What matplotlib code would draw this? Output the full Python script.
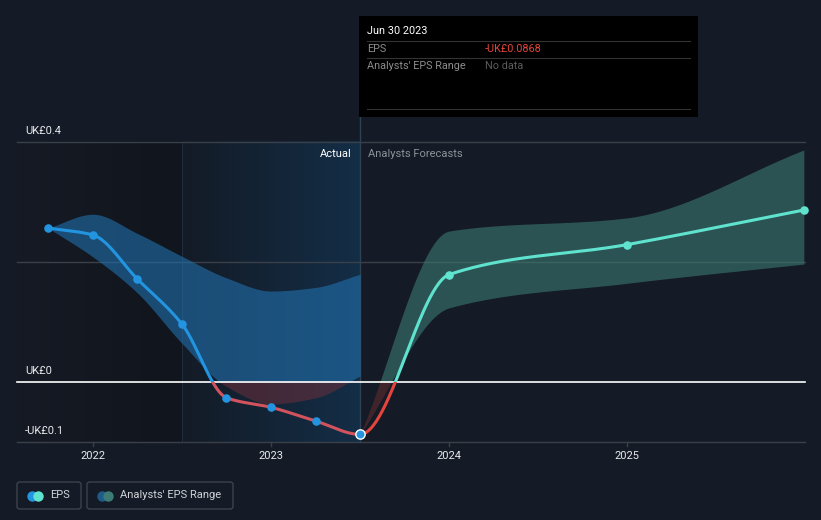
import numpy as np
import matplotlib
matplotlib.use("Agg")
import matplotlib.pyplot as plt
from matplotlib.patches import Rectangle, FancyBboxPatch
from matplotlib.colors import LinearSegmentedColormap

plt.rcParams['font.family'] = ['Roboto', 'DejaVu Sans']

# ---- data ----
past_x = [2021.75, 2022.0, 2022.25, 2022.5, 2022.75, 2023.0, 2023.25, 2023.5]
past_eps = [0.257, 0.2455, 0.172, 0.097, -0.0257, -0.0417, -0.0645, -0.0868]
past_hi = [0.257, 0.280, 0.248, 0.210, 0.174, 0.152, 0.158, 0.180]
past_lo = [0.257, 0.209, 0.149, 0.065, -0.007, -0.036, -0.026, 0.0105]

fc_x = [2023.5, 2024.0, 2025.0, 2025.99]
fc_eps = [-0.0868, 0.1795, 0.2295, 0.287]
fc_hi = [-0.0868, 0.252, 0.274, 0.387]
fc_lo = [-0.0868, 0.124, 0.165, 0.197]

y_ticks = [0.4, 0.0, -0.1]
y_labels = ['UK£0.4', 'UK£0', '-UK£0.1']
x_ticks = [2022, 2023, 2024, 2025]

BG = '#151b26'
BLUE = '#2394e0'
TEAL = '#5fe3cf'
RED = '#e5443c'


def pchip(x, y, xs):
    # monotone cubic through the points
    x = np.asarray(x, float)
    y = np.asarray(y, float)
    h = np.diff(x)
    d = np.diff(y) / h
    m = np.zeros_like(y)
    m[0], m[-1] = d[0], d[-1]
    for i in range(1, len(y) - 1):
        if d[i - 1] * d[i] > 0:
            w1 = 2 * h[i] + h[i - 1]
            w2 = h[i] + 2 * h[i - 1]
            m[i] = (w1 + w2) / (w1 / d[i - 1] + w2 / d[i])
    idx = np.clip(np.searchsorted(x, xs, side='right') - 1, 0, len(x) - 2)
    t = (xs - x[idx]) / h[idx]
    h00 = 2 * t**3 - 3 * t**2 + 1
    h10 = t**3 - 2 * t**2 + t
    h01 = -2 * t**3 + 3 * t**2
    h11 = t**3 - t**2
    return h00 * y[idx] + h10 * h[idx] * m[idx] + h01 * y[idx + 1] + h11 * h[idx] * m[idx + 1]


PX_YEAR = 178.2
fig = plt.figure(figsize=(8.21, 5.2), dpi=100, facecolor=BG)
ax = fig.add_axes([0, 0, 1, 1])
ax.set_facecolor(BG)
xl = 2022 - 92.8 / PX_YEAR
ax.set_xlim(xl, xl + 821 / PX_YEAR)
ax.set_ylim(-0.2295, 0.637)
ax.axis('off')

x0 = 2022 - 76 / PX_YEAR
x1 = 2022 + 712 / PX_YEAR
ytop, ybot = 0.4, -0.1

# background shading
grad = np.linspace(0, 1, 256).reshape(1, -1)
cm_dark = LinearSegmentedColormap.from_list('d', ['#151a24', '#11151d'])
ax.imshow(grad, extent=[x0, 2022.5, ybot, ytop], aspect='auto', cmap=cm_dark, zorder=0)
cm_act = LinearSegmentedColormap.from_list('a', ['#131b26', '#142e47'])
ax.imshow(grad, extent=[2022.5, 2023.5, ybot, ytop], aspect='auto', cmap=cm_act, zorder=0)
ax.plot([2022.5, 2022.5], [ybot, ytop], color='#1f2d3c', lw=0.8, zorder=1)

# grid
for gy in [0.4, 0.2, -0.1]:
    ax.plot([x0, x1], [gy, gy], color='#3a4049', lw=1, zorder=1)
for xt in x_ticks:
    ax.plot([xt, xt], [-0.1, -0.107], color='#3a4049', lw=1, zorder=1)

above = Rectangle((x0 - 1, 0), 10, 5, transform=ax.transData)
below = Rectangle((x0 - 1, -5), 10, 5, transform=ax.transData)

# past range band
bx = np.linspace(past_x[0], past_x[-1], 300)
bh = pchip(past_x, past_hi, bx)
bl = pchip(past_x, past_lo, bx)
f1 = ax.fill_between(bx, bl, bh, color='#2170ad', alpha=0.6, lw=0, zorder=2)
f1.set_clip_path(above)
f2 = ax.fill_between(bx, bl, bh, color='#6b2f3c', alpha=0.55, lw=0, zorder=2)
f2.set_clip_path(below)

# forecast range band
fx = np.linspace(fc_x[0], fc_x[-1], 300)
fh = pchip(fc_x, fc_hi, fx)
fl = pchip(fc_x, fc_lo, fx)
f3 = ax.fill_between(fx, fl, fh, color='#3a7a72', alpha=0.6, lw=0, zorder=2)
f3.set_clip_path(above)
f4 = ax.fill_between(fx, fl, fh, color='#5c2c30', alpha=0.6, lw=0, zorder=2)
f4.set_clip_path(below)

# zero line
ax.plot([x0, x1], [0, 0], color='white', lw=1.2, zorder=3)

# eps lines: one smooth curve over actual + forecast, split at last actual
all_x = past_x + fc_x[1:]
all_y = past_eps + fc_eps[1:]
px = np.linspace(past_x[0], past_x[-1], 300)
py = pchip(all_x, all_y, px)
qx = np.linspace(fc_x[0], fc_x[-1], 300)
qy = pchip(all_x, all_y, qx)

l1, = ax.plot(px, py, color=BLUE, lw=2.2, zorder=4, solid_capstyle='round')
l1.set_clip_path(above)
l2, = ax.plot(px, py, color='#d2535e', lw=2.2, zorder=4, solid_capstyle='round')
l2.set_clip_path(below)
ax.scatter(past_x[:-1], past_eps[:-1], s=38, color=BLUE, zorder=5, lw=0)

l3, = ax.plot(qx, qy, color=TEAL, lw=2.2, zorder=4)
l3.set_clip_path(above)
l4, = ax.plot(qx, qy, color=RED, lw=2.2, zorder=4)
l4.set_clip_path(below)
ax.scatter(fc_x[1:], fc_eps[1:], s=38, color=TEAL, zorder=5, lw=0)
ax.scatter([past_x[-1]], [past_eps[-1]], s=45, color=BLUE, edgecolor='white', lw=1, zorder=6)

# divider line at last actual
ax.plot([2023.5, 2023.5], [-0.1, 0.443], color='#2e4256', lw=1, zorder=1)

# labels
for v, t in zip(y_ticks, y_labels):
    ax.text(2022 - 68 / PX_YEAR, v + 0.011, t, color='#e8eaed', fontsize=8, ha='left', va='bottom')
for xt in x_ticks:
    ax.text(xt, -0.115, str(xt), color='#e8eaed', fontsize=8, ha='center', va='top')
ax.text(2023.455, 0.380, 'Actual', color='#ffffff', fontsize=8, ha='right', va='center')
ax.text(2023.545, 0.380, 'Analysts Forecasts', color='#8c9097', fontsize=8, ha='left', va='center')

# tooltip
W, H = 821, 520


def px2fig(x, y):
    return x / W, 1 - y / H


tx0, ty0 = px2fig(359, 117)
tx1, ty1 = px2fig(698, 16)
fig.patches.append(Rectangle((tx0, ty0), tx1 - tx0, ty1 - ty0, transform=fig.transFigure,
                             facecolor='#000000', edgecolor='none', zorder=10))
for yy in [41, 58, 109]:
    a, b = px2fig(367, yy)
    c, _ = px2fig(690, yy)
    fig.add_artist(plt.Line2D([a, c], [b, b], transform=fig.transFigure, color='#333333', lw=0.8, zorder=11))
fig.text(*px2fig(367, 31), 'Jun 30 2023', color='white', fontsize=7.8, va='center', zorder=12)
fig.text(*px2fig(367, 49), 'EPS', color='#8c8c8c', fontsize=7.8, va='center', zorder=12)
fig.text(*px2fig(485, 49), '-UK£0.0868', color='#e5443c', fontsize=7.8, va='center', zorder=12)
fig.text(*px2fig(367, 66), "Analysts' EPS Range", color='#8c8c8c', fontsize=7.8, va='center', zorder=12)
fig.text(*px2fig(485, 66), 'No data', color='#5c5c5c', fontsize=7.8, va='center', zorder=12)


# legend
def legend_box(xa, xb, c1, c2, label):
    a, b = px2fig(xa, 509)
    c, d = px2fig(xb, 482)
    fig.patches.append(FancyBboxPatch((a, b), c - a, d - b, boxstyle='round,pad=0,rounding_size=0.004',
                                      transform=fig.transFigure, facecolor='none',
                                      edgecolor='#3d424b', lw=1, zorder=10))
    cy = 495.5
    fig.add_artist(plt.Line2D([(xa + 15) / W], [1 - cy / H], marker='o', ms=7.5, color=c1,
                              mec='none', transform=fig.transFigure, zorder=11))
    fig.add_artist(plt.Line2D([(xa + 21) / W], [1 - cy / H], marker='o', ms=7.5, color=c2,
                              mec='none', transform=fig.transFigure, zorder=12))
    fig.text((xa + 33) / W, 1 - cy / H, label, color='#d0d3d8', fontsize=8, va='center', zorder=12)


legend_box(17, 81, BLUE, TEAL, 'EPS')
legend_box(87, 233, '#1f5b88', '#3d7c74', "Analysts' EPS Range")

fig.savefig('out.png', dpi=100, facecolor=BG)
